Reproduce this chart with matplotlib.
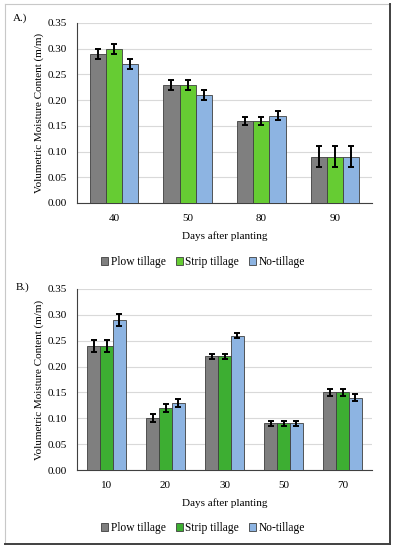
import matplotlib
matplotlib.use("Agg")
import matplotlib.pyplot as plt
import numpy as np
from matplotlib.lines import Line2D
from matplotlib.patches import Patch

plt.rcParams['font.family'] = ['Liberation Serif', 'DejaVu Serif']

series = ["Plow tillage", "Strip tillage", "No-tillage"]

days_a = ["40", "50", "80", "90"]
plow_a = [0.29, 0.23, 0.16, 0.09]
strip_a = [0.30, 0.23, 0.16, 0.09]
no_a = [0.27, 0.21, 0.17, 0.09]
plow_a_err = [0.01, 0.01, 0.008, 0.02]
strip_a_err = [0.01, 0.01, 0.008, 0.02]
no_a_err = [0.01, 0.01, 0.008, 0.02]

days_b = ["10", "20", "30", "50", "70"]
plow_b = [0.24, 0.10, 0.22, 0.09, 0.15]
strip_b = [0.24, 0.12, 0.22, 0.09, 0.15]
no_b = [0.29, 0.13, 0.26, 0.09, 0.14]
plow_b_err = [0.012, 0.008, 0.005, 0.004, 0.007]
strip_b_err = [0.012, 0.008, 0.005, 0.004, 0.007]
no_b_err = [0.012, 0.008, 0.005, 0.004, 0.007]

yticks = [0.00, 0.05, 0.10, 0.15, 0.20, 0.25, 0.30, 0.35]

W, H = 394, 550
fig = plt.figure(figsize=(W / 100, H / 100), dpi=100)
FS = 8


def box(l, t, r, b):
    return [l / W, 1 - b / H, (r - l) / W, (b - t) / H]


def panel(rect, cats, vals, errs, colors, label, lab_xy, leg_y):
    ax = fig.add_axes(rect)
    x = np.arange(len(cats))
    w = 0.22
    for i, (v, e, c) in enumerate(zip(vals, errs, colors)):
        ax.bar(x + (i - 1) * w, v, width=w, color=c, edgecolor="#3f3f3f",
               linewidth=0.6, zorder=3,
               yerr=e, error_kw=dict(ecolor="black", elinewidth=1.4,
                                     capsize=2.0, capthick=1.4, zorder=4))
    ax.set_xlim(-0.5, len(cats) - 0.5)
    ax.set_ylim(0, 0.35)
    ax.set_yticks(yticks)
    ax.set_yticklabels([f"{t:.2f}" for t in yticks], fontsize=FS)
    ax.set_xticks(x)
    ax.set_xticklabels(cats, fontsize=FS)
    ax.tick_params(length=0, pad=8, axis="x")
    ax.tick_params(length=0, pad=7, axis="y")
    ax.grid(axis="y", color="#d9d9d9", linewidth=0.8, zorder=0)
    for s in ["top", "right"]:
        ax.spines[s].set_visible(False)
    ax.spines["left"].set_color("#404040")
    ax.spines["bottom"].set_color("#404040")
    ax.spines["left"].set_linewidth(0.8)
    ax.spines["bottom"].set_linewidth(0.8)
    ax.set_xlabel("Days after planting", fontsize=FS, labelpad=6)
    ax.set_ylabel("Volumetric Moisture Content (m/m)", fontsize=FS, labelpad=3)
    fig.text(lab_xy[0] / W, 1 - lab_xy[1] / H, label, fontsize=FS,
             ha="left", va="center")
    handles = [Patch(facecolor=c, edgecolor="#3f3f3f", linewidth=0.6) for c in colors]
    fig.legend(handles, series, loc="center", ncol=3, frameon=False,
               bbox_to_anchor=(203 / W, 1 - leg_y / H), fontsize=8.3,
               handlelength=0.6, handleheight=0.6, handletextpad=0.2,
               columnspacing=0.9)
    return ax


col_a = ["#7f7f7f", "#66cc33", "#8db4e2"]
col_b = ["#7f7f7f", "#3dae32", "#8db4e2"]

panel(box(77, 23, 372, 203), days_a, [plow_a, strip_a, no_a],
      [plow_a_err, strip_a_err, no_a_err], col_a, "A.)", (13, 18), 262)
panel(box(77, 289, 372, 470), days_b, [plow_b, strip_b, no_b],
      [plow_b_err, strip_b_err, no_b_err], col_b, "B.)", (16, 287), 528)

# frame
fig.add_artist(Line2D([5 / W, 5 / W], [1 - 544 / H, 1 - 4 / H], color="#c8c8c8", lw=0.8))
fig.add_artist(Line2D([5 / W, 390 / W], [1 - 4 / H, 1 - 4 / H], color="#c8c8c8", lw=0.8))
fig.add_artist(Line2D([390 / W, 390 / W], [1 - 544 / H, 1 - 4 / H], color="#404040", lw=1.4))
fig.add_artist(Line2D([5 / W, 390 / W], [1 - 544 / H, 1 - 544 / H], color="#404040", lw=1.4))

fig.savefig("out.png", dpi=100)
